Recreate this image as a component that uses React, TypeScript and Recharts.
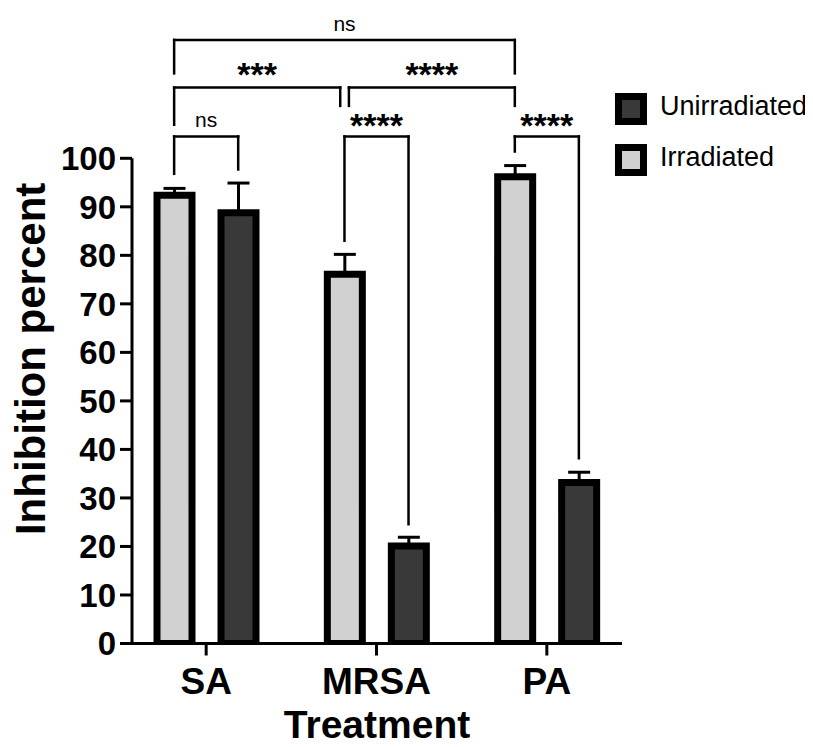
import React from "react"
import {
  BarChart,
  Bar,
  XAxis,
  YAxis,
  ErrorBar,
  Legend,
  ReferenceLine,
  ReferenceDot,
} from "recharts"

const FONT = "'Liberation Sans', Arial, Helvetica, sans-serif"

const categories = ["SA", "MRSA", "PA"]
const irradiated = [92.4, 76.1, 96.2]
const irradiatedSd = [1.4, 4.1, 2.3]
const unirradiated = [88.8, 20.1, 33.2]
const unirradiatedSd = [6.1, 1.8, 2.1]
const yTicks = [0, 10, 20, 30, 40, 50, 60, 70, 80, 90, 100]

const LIGHT = "#d1d1d1"
const DARK = "#393939"

// significance brackets, x in category units (0..3), y in axis units
const brackets = [
  { x1: 0.312, x2: 2.312, y: 124.4, left: 117.5, right: 117.5, text: "ns", ty: 127.7, bold: false },
  { x1: 0.312, x2: 1.287, y: 114.6, left: 106.9, right: 110.8, text: "***", ty: 117.4, bold: true },
  { x1: 1.338, x2: 2.312, y: 114.6, left: 110.8, right: 110.8, text: "****", ty: 117.4, bold: true },
  { x1: 0.312, x2: 0.688, y: 104.5, left: 96.8, right: 97.7, text: "ns", ty: 107.9, bold: false },
  { x1: 1.312, x2: 1.688, y: 104.5, left: 83.0, right: 24.6, text: "****", ty: 106.8, bold: true },
  { x1: 2.312, x2: 2.688, y: 104.5, left: 101.4, right: 38.2, text: "****", ty: 106.8, bold: true },
]

const data = categories.map((name, i) => ({
  name,
  pos: i + 0.5,
  irr: irradiated[i],
  irrErr: [0, irradiatedSd[i]],
  unirr: unirradiated[i],
  unirrErr: [0, unirradiatedSd[i]],
}))

const legendColors: Record<string, string> = { Irradiated: LIGHT, Unirradiated: DARK }

function renderLegend(props: any) {
  const items = [...(props.payload ?? [])].reverse()
  return (
    <div style={{ fontFamily: FONT }}>
      {items.map((p: any) => (
        <div
          key={p.value}
          style={{ display: "flex", alignItems: "center", height: 32, marginBottom: 19 }}
        >
          <span
            style={{
              width: 18,
              height: 18,
              flex: "none",
              border: "7px solid #000",
              background: legendColors[p.value] ?? p.color,
              display: "inline-block",
            }}
          />
          <span
            style={{
              marginLeft: 13,
              fontSize: 27,
              color: "#000",
              whiteSpace: "nowrap",
              position: "relative",
              top: -3,
            }}
          >
            {p.value}
          </span>
        </div>
      ))}
    </div>
  )
}

const lineStyle = { stroke: "#000", strokeWidth: 2.5, strokeLinecap: "square" as const }

export default function App() {
  return (
    <div style={{ width: 805, height: 739, fontFamily: FONT }}>
      <BarChart
        width={805}
        height={739}
        data={data}
        margin={{ top: 150.3, right: 191, bottom: 0, left: 0 }}
        barSize={35}
        barGap={29}
      >
        <XAxis
          dataKey="name"
          height={103.5}
          padding={{ left: -11, right: -10 }}
          interval={0}
          tickSize={12}
          tickMargin={12}
          axisLine={{ stroke: "#000", strokeWidth: 3 }}
          tickLine={{ stroke: "#000", strokeWidth: 3 }}
          tick={{ fill: "#000", fontSize: 37, fontWeight: 700, fontFamily: FONT }}
          label={{
            value: "Treatment",
            position: "insideBottom",
            offset: 9,
            fill: "#000",
            fontSize: 39,
            fontWeight: 700,
            fontFamily: FONT,
          }}
        />
        <XAxis
          xAxisId="n"
          dataKey="pos"
          type="number"
          domain={[0, 3]}
          allowDataOverflow
          padding={{ left: -11, right: -10 }}
          hide
        />
        <YAxis
          width={124}
          domain={[0, 100]}
          allowDataOverflow
          ticks={yTicks}
          interval={0}
          tickSize={12}
          tickMargin={4}
          axisLine={{ stroke: "#000", strokeWidth: 3 }}
          tickLine={{ stroke: "#000", strokeWidth: 3 }}
          tick={{ fill: "#000", fontSize: 33, fontWeight: 700, fontFamily: FONT }}
          label={{
            value: "Inhibition percent",
            angle: -90,
            position: "center",
            dx: -40,
            dy: -42,
            fill: "#000",
            fontSize: 42,
            fontWeight: 700,
            fontFamily: FONT,
          }}
        />
        <Bar
          dataKey="irr"
          name="Irradiated"
          fill={LIGHT}
          stroke="#000"
          strokeWidth={7}
          isAnimationActive={false}
        >
          <ErrorBar dataKey="irrErr" width={11} stroke="#000" strokeWidth={3} direction="y" />
        </Bar>
        <Bar
          dataKey="unirr"
          name="Unirradiated"
          fill={DARK}
          stroke="#000"
          strokeWidth={7}
          isAnimationActive={false}
        >
          <ErrorBar dataKey="unirrErr" width={11} stroke="#000" strokeWidth={3} direction="y" />
        </Bar>
        {brackets.map((b, i) => (
          <React.Fragment key={i}>
            <ReferenceLine
              xAxisId="n"
              segment={[{ x: b.x1, y: b.left }, { x: b.x1, y: b.y }]}
              ifOverflow="visible"
              {...lineStyle}
            />
            <ReferenceLine
              xAxisId="n"
              segment={[{ x: b.x1, y: b.y }, { x: b.x2, y: b.y }]}
              ifOverflow="visible"
              {...lineStyle}
            />
            <ReferenceLine
              xAxisId="n"
              segment={[{ x: b.x2, y: b.y }, { x: b.x2, y: b.right }]}
              ifOverflow="visible"
              {...lineStyle}
            />
            <ReferenceDot
              xAxisId="n"
              x={(b.x1 + b.x2) / 2}
              y={b.ty}
              r={0}
              fill="none"
              stroke="none"
              ifOverflow="visible"
              label={{
                value: b.text,
                position: "center",
                fill: "#000",
                fontSize: b.bold ? 34 : 21,
                fontWeight: b.bold ? 700 : 400,
                fontFamily: FONT,
              }}
            />
          </React.Fragment>
        ))}
        <Legend
          layout="horizontal"
          align="center"
          verticalAlign="middle"
          content={renderLegend}
          wrapperStyle={{ left: 607, top: 85.3, width: 198 }}
        />
      </BarChart>
    </div>
  )
}
